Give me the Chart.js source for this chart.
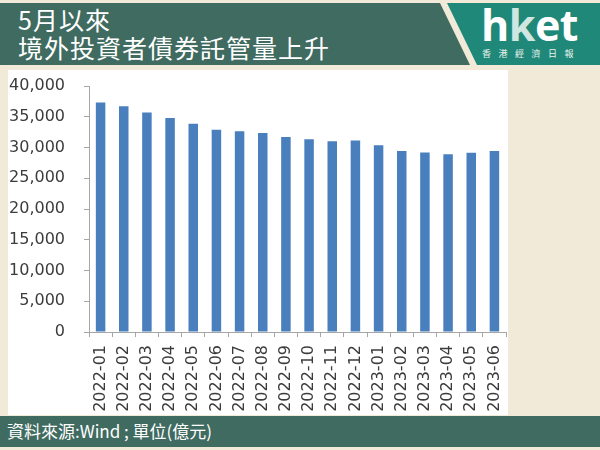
<!DOCTYPE html>
<html>
<head>
<meta charset="utf-8">
<script src="https://cdn.jsdelivr.net/npm/chart.js@4/dist/chart.umd.min.js"></script>
<style>
  html, body { margin: 0; padding: 0; }
  body { width: 600px; height: 450px; background: #f1ead8; position: relative; overflow: hidden; font-family: "Noto Sans CJK TC", "Noto Sans", sans-serif; }
  #hdrGreen { position: absolute; left: 0; top: 3px; width: 470px; height: 62px; background: #406b61;
    clip-path: polygon(0 0, 440px 0, 470px 100%, 0 100%); }
  #hdrTeal { position: absolute; left: 447px; top: 3px; width: 153px; height: 62px; background: #1f8878;
    clip-path: polygon(0 0, 100% 0, 100% 100%, 30px 100%); }
  #title { position: absolute; left: 18px; top: 5px; color: #ffffff; font-size: 25px; line-height: 28px; letter-spacing: 1px; font-weight: 400; }
  #logo { position: absolute; left: 481px; top: -5px; color: #ffffff; font-family: "Open Sans", Roboto, sans-serif; font-weight: 700; font-size: 43px; letter-spacing: -0.5px; }
  #logo .k { color: #cfe6e1; }
  #logoSub { position: absolute; left: 482px; top: 47px; color: #e8f2ef; font-size: 9px; letter-spacing: 7.5px; white-space: nowrap; }
  #panel { position: absolute; left: 8px; top: 70px; width: 500px; height: 345px; background: #ffffff; }
  #footer { position: absolute; left: 0; top: 416px; width: 600px; height: 31px; background: #406b61; }
  #src { position: absolute; left: 7px; top: 418px; color: #ffffff; font-size: 17px; line-height: 26px; white-space: nowrap; }
</style>
</head>
<body>
<div id="hdrGreen"></div>
<div id="hdrTeal"></div>
<div id="title">5月以來<br>境外投資者債券託管量上升</div>
<div id="logo">h<span class="k">k</span>et</div>
<div id="logoSub">香港經濟日報</div>
<div id="panel"><canvas id="c" width="500" height="345"></canvas></div>
<div id="footer"></div>
<div id="src">資料來源:Wind ; 單位(億元)</div>
<script>
const categories = ["2022-01","2022-02","2022-03","2022-04","2022-05","2022-06","2022-07","2022-08","2022-09","2022-10","2022-11","2022-12","2023-01","2023-02","2023-03","2023-04","2023-05","2023-06"];
const values = [37300, 36700, 35700, 34800, 33850, 32900, 32650, 32350, 31700, 31350, 31000, 31150, 30350, 29450, 29200, 28900, 29150, 29450];
const yMin = 0, yMax = 40000, yStep = 5000;

const axisColor = "#a6a6a6";
const labelColor = "#3c3c3c";

new Chart(document.getElementById("c"), {
  type: "bar",
  data: {
    labels: categories,
    datasets: [{
      data: values,
      backgroundColor: "#4a7fbd",
      borderWidth: 0,
      categoryPercentage: 1.0,
      barPercentage: 0.41
    }]
  },
  options: {
    responsive: false,
    animation: false,
    devicePixelRatio: 1,
    layout: { padding: { left: 0, top: 16, right: 2, bottom: 0 } },
    plugins: { legend: { display: false }, tooltip: { enabled: false } },
    scales: {
      x: {
        offset: true,
        grid: { display: true, drawOnChartArea: false, drawTicks: true, tickLength: 5, color: axisColor, offset: true },
        border: { display: true, color: axisColor, width: 1 },
        ticks: {
          autoSkip: false, minRotation: 90, maxRotation: 90, padding: 8,
          color: labelColor, font: { family: "DejaVu Sans", size: 16 }
        },
        afterFit: (s) => { s.height = 83; s.paddingLeft = 0; s.paddingRight = 0; }
      },
      y: {
        min: yMin, max: yMax,
        grid: { display: true, drawOnChartArea: false, drawTicks: true, tickLength: 5, color: axisColor },
        border: { display: true, color: axisColor, width: 1 },
        ticks: {
          stepSize: yStep, padding: 19,
          color: labelColor, font: { family: "DejaVu Sans", size: 16 },
          callback: (v) => v.toLocaleString("en-US")
        },
        afterFit: (s) => { s.width = 81; s.paddingTop = 0; s.paddingBottom = 0; }
      }
    }
  }
});
</script>
</body>
</html>
